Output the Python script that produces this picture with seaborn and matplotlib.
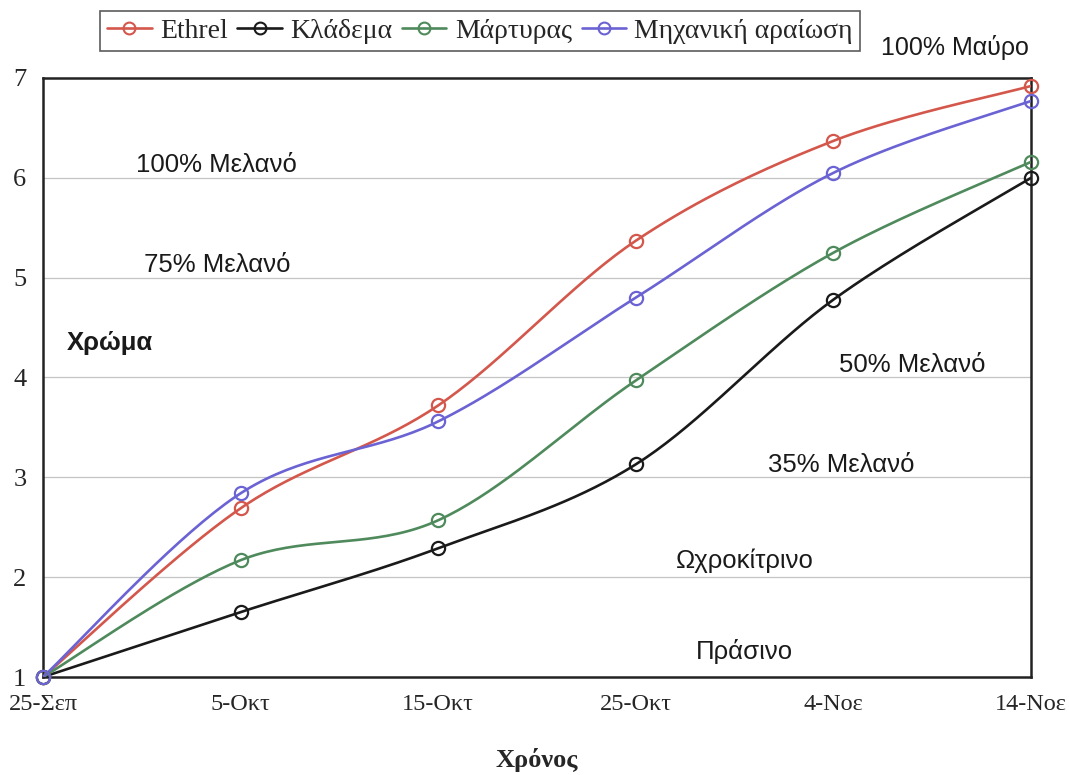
import numpy as np
import pandas as pd
import matplotlib
matplotlib.use("Agg")
import matplotlib.pyplot as plt
from matplotlib.lines import Line2D
import seaborn as sns

# Sampling dates and colour scores per treatment
dates = ["25-Σεπ", "5-Οκτ", "15-Οκτ", "25-Οκτ", "4-Νοε", "14-Νοε"]
ethrel = [1.0, 2.69, 3.72, 5.37, 6.37, 6.92]
kladema = [1.0, 1.65, 2.29, 3.13, 4.78, 6.00]
martyras = [1.0, 2.17, 2.57, 3.97, 5.25, 6.16]
araiosi = [1.0, 2.84, 3.56, 4.80, 6.05, 6.77]

series_names = ["Ethrel", "Κλάδεμα", "Μάρτυρας", "Μηχανική αραίωση"]
series_values = [ethrel, kladema, martyras, araiosi]
colors = ["#d4574c", "#1a1a1a", "#4f8a5c", "#6b63d3"]

# Colour-class labels written inside the plot
class_labels = ["100% Μελανό", "75% Μελανό", "50% Μελανό", "35% Μελανό", "Ωχροκίτρινο", "Πράσινο"]


def smooth(xs, ys, n=40):
    """Bezier smoothing through every point (Catmull-Rom style tangents)."""
    pts = np.column_stack([xs, ys]).astype(float)
    ext = np.vstack([pts[0], pts, pts[-1]])
    out = []
    t = np.linspace(0, 1, n)[:, None]
    for i in range(1, len(ext) - 2):
        p0, p1, p2, p3 = ext[i - 1], ext[i], ext[i + 1], ext[i + 2]
        c1 = p1 + (p2 - p0) / 6.0
        c2 = p2 - (p3 - p1) / 6.0
        seg = ((1 - t) ** 3) * p1 + 3 * ((1 - t) ** 2) * t * c1 + 3 * (1 - t) * t ** 2 * c2 + t ** 3 * p2
        out.append(seg if i == 1 else seg[1:])
    return np.vstack(out)


sns.set_theme(style="white")
plt.rcParams["font.family"] = ["Liberation Serif", "DejaVu Serif"]

fig = plt.figure(figsize=(10.69, 7.75), dpi=100)
ax = fig.add_axes([43 / 1069, 1 - 677 / 775, (1031 - 43) / 1069, (677 - 78) / 775])

xpos = np.arange(len(dates))
for name, vals, col in zip(series_names, series_values, colors):
    curve = smooth(xpos, vals)
    df_curve = pd.DataFrame({"x": curve[:, 0], "y": curve[:, 1]})
    sns.lineplot(data=df_curve, x="x", y="y", color=col, linewidth=1.9, sort=False,
                 estimator=None, ax=ax, zorder=3)
    df_pts = pd.DataFrame({"x": xpos, "y": vals})
    ax.plot(df_pts["x"], df_pts["y"], linestyle="none", marker="o", markersize=9.5,
            markerfacecolor="none", markeredgecolor=col, markeredgewidth=1.6, zorder=4,
            clip_on=False)

ax.set_xlim(0, len(dates) - 1)
ax.set_ylim(1, 7)
ax.set_xticks(xpos)
ax.set_xticklabels(dates, fontsize=17.5)
ax.set_yticks(range(1, 8))
ax.set_yticklabels([str(v) for v in range(1, 8)], fontsize=19)
ax.tick_params(axis="x", length=0, pad=12)
ax.tick_params(axis="y", length=0, pad=12)
ax.set_xlabel("Χρόνος", fontsize=19, fontweight="bold", labelpad=24)
ax.set_ylabel("")

for y in range(2, 7):
    ax.axhline(y, color="#c4c4c4", linewidth=0.9, zorder=1)
for side in ax.spines.values():
    side.set_visible(True)
    side.set_color("#222222")
    side.set_linewidth(1.8)

sans = ["Liberation Sans", "DejaVu Sans"]
label_pos = [(0.88, 6.13), (0.88, 5.13), (4.40, 4.13), (4.04, 3.12), (3.55, 2.16), (3.55, 1.26)]
for text, (lx, ly) in zip(class_labels, label_pos):
    ax.text(lx, ly, text, fontsize=18.5, family=sans, ha="center", va="center", color="#1a1a1a",
            zorder=5)
ax.text(0.34, 4.35, "Χρώμα", fontsize=18.5, family=sans, fontweight="bold", ha="center",
        va="center", color="#1a1a1a")
fig.text(955 / 1069, 1 - 48 / 775, "100% Μαύρο", fontsize=18, family=sans, ha="center",
         va="center", color="#1a1a1a")

handles = [Line2D([0], [0], color=c, linewidth=1.9, marker="o", markersize=8.5,
                  markerfacecolor="none", markeredgecolor=c, markeredgewidth=1.5)
           for c in colors]
leg = fig.legend(handles, series_names, loc="center", ncol=4,
                 bbox_to_anchor=(480 / 1069, 1 - 31 / 775), fontsize=20, frameon=True,
                 fancybox=False, handlelength=1.6, handletextpad=0.3, columnspacing=0.35,
                 borderpad=0.25)
leg.get_frame().set_edgecolor("#333333")
leg.get_frame().set_linewidth(1.2)

fig.savefig("out.png", dpi=100)
